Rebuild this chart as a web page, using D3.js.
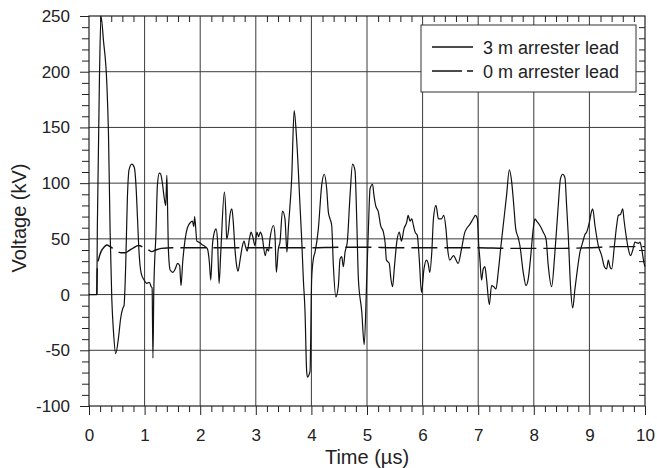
<!DOCTYPE html>
<html>
<head>
<meta charset="utf-8">
<script src="https://cdn.jsdelivr.net/npm/d3@7"></script>
<style>
  body { margin: 0; background: #fff; }
  svg text { font-family: "Liberation Sans", Arial, Helvetica, sans-serif; fill: #222; }
</style>
</head>
<body>
<div id="chart"></div>
<script>
// voltage at the transformer, 3 m vs 0 m arrester lead

var xTicks = [0, 1, 2, 3, 4, 5, 6, 7, 8, 9, 10];
var yTicks = [-100, -50, 0, 50, 100, 150, 200, 250];
var seriesNames = ['3 m arrester lead', '0 m arrester lead'];

// time (us)
var leadT3 = [0, 0.14, 0.15, 0.19, 0.215, 0.26, 0.32, 0.35, 0.38, 0.41, 0.44, 0.48, 0.53, 0.57, 0.61, 0.63, 0.66, 0.69, 0.72, 0.77,
  0.815, 0.845, 0.87, 0.90, 0.935, 0.99, 1.04, 1.085, 1.12, 1.135, 1.15, 1.165, 1.205, 1.23, 1.265, 1.29, 1.325, 1.355, 1.38, 1.40,
  1.41, 1.43, 1.46, 1.51, 1.55, 1.595, 1.63, 1.655, 1.685, 1.73, 1.77, 1.83, 1.86, 1.885, 1.90, 1.94, 1.98, 2.03, 2.09, 2.13,
  2.165, 2.19, 2.22, 2.255, 2.285, 2.31, 2.34, 2.37, 2.435, 2.46, 2.475, 2.505, 2.535, 2.57, 2.595, 2.625, 2.655, 2.68, 2.72, 2.76,
  2.79, 2.815, 2.845, 2.885, 2.915, 2.945, 2.985, 3.02, 3.05, 3.08, 3.11, 3.17, 3.20, 3.23, 3.255, 3.32, 3.345, 3.37, 3.405, 3.435,
  3.48, 3.525, 3.56, 3.585, 3.645, 3.69, 3.735, 3.795, 3.825, 3.855, 3.885, 3.915, 3.93, 3.975, 4.005, 4.035, 4.065, 4.125, 4.185, 4.23,
  4.275, 4.305, 4.335, 4.365, 4.395, 4.44, 4.485, 4.515, 4.545, 4.575, 4.605, 4.645, 4.695, 4.74, 4.785, 4.815, 4.845, 4.905, 4.95, 4.995,
  5.025, 5.055, 5.10, 5.125, 5.155, 5.205, 5.245, 5.295, 5.325, 5.35, 5.40, 5.43, 5.46, 5.49, 5.535, 5.58, 5.62, 5.665, 5.715, 5.74,
  5.775, 5.805, 5.835, 5.865, 5.905, 5.94, 5.98, 6.025, 6.07, 6.10, 6.13, 6.165, 6.195, 6.24, 6.285, 6.34, 6.38, 6.42, 6.45, 6.49,
  6.555, 6.64, 6.70, 6.76, 6.79, 6.85, 6.91, 6.95, 6.985, 7.01, 7.03, 7.06, 7.09, 7.12, 7.15, 7.20, 7.24, 7.28, 7.32, 7.36,
  7.41, 7.45, 7.51, 7.56, 7.60, 7.64, 7.675, 7.72, 7.75, 7.81, 7.86, 7.90, 7.94, 7.99, 8.02, 8.05, 8.11, 8.17, 8.22, 8.26,
  8.32, 8.38, 8.44, 8.48, 8.52, 8.56, 8.59, 8.62, 8.66, 8.70, 8.74, 8.77, 8.83, 8.88, 8.92, 8.95, 9.00, 9.04, 9.06, 9.10,
  9.16, 9.22, 9.27, 9.31, 9.34, 9.37, 9.40, 9.45, 9.49, 9.52, 9.56, 9.60, 9.62, 9.66, 9.70, 9.74, 9.78, 9.82, 9.88, 9.91,
  9.94, 9.98, 10];
// voltage (kV)
var leadV3 = [0, 0, 60, 200, 250, 228, 190, 145, 56, -4, -33, -53, -39, -21, -12, -10, 26, 86, 112, 117,
  114, 98, 71, 38, 20, 13, 10, 11, 7, 6, -57, 2, 56, 98, 109, 108, 98, 86, 80, 107,
  86, 38, 22, 20, 23, 28, 26, 8, 29, 50, 60, 65, 66, 61, 70, 48, 47, 45, 43, 41,
  29, 13, 44, 56, 59, 50, 10, 38, 92, 74, 50, 56, 71, 77, 65, 41, 26, 21, 32, 44,
  48, 43, 39, 50, 56, 52, 44, 56, 52, 56, 53, 35, 41, 39, 50, 62, 53, 20, 41, 47,
  75, 68, 38, 59, 104, 165, 139, 80, 50, 14, -15, -69, -74, -69, 14, 32, 38, 59, 98, 108,
  95, 74, 68, 62, 26, -2, 8, 32, 34, 25, 38, 47, 89, 117, 111, 68, 14, -15, -45, 14,
  59, 95, 99, 89, 80, 74, 62, 56, 47, 31, 28, 14, 7, 23, 47, 56, 48, 59, 65, 71,
  66, 68, 62, 56, 53, 32, 2, 23, 31, 28, 20, 38, 68, 80, 68, 68, 71, 59, 41, 31,
  35, 28, 41, 56, 59, 63, 68, 71, 68, 44, 32, 13, 23, 25, 14, -9, 8, 7, 5, 20,
  44, 62, 89, 112, 102, 80, 59, 51, 44, 20, 8, 14, 32, 59, 68, 66, 62, 56, 50, 26,
  7, 38, 80, 104, 108, 105, 80, 53, 8, -12, 5, 17, 38, 47, 54, 56, 65, 75, 77, 62,
  44, 35, 25, 23, 31, 25, 23, 44, 62, 71, 72, 77, 68, 53, 41, 35, 40, 47, 46, 47,
  41, 29, 25];

var leadT0 = [0, 0.14, 0.15, 0.18, 0.22, 0.27, 0.32, 0.38, 0.44, 0.5, 0.58, 0.65, 0.72, 0.8, 0.89, 0.95, 1.0, 1.07, 1.13, 1.2,
  1.3, 1.5, 2.0, 2.5, 3.0, 3.5, 4.0, 4.5, 5.0, 5.5, 6.0, 6.5, 7.0, 7.5, 8.0, 8.5, 9.0, 9.5, 10];
var leadV0 = [0, 0, 25, 33, 39, 42.5, 44.5, 43, 41, 39, 37.5, 37.5, 39.5, 42, 44, 43, 41, 40, 38.5, 40,
  41.5, 42, 42, 42, 42, 42, 42, 42.5, 42.5, 42, 42, 42, 42, 41.5, 41.5, 41.5, 42, 43, 43];

var drawChart = function(){

    var svgWidth = 657;
    var svgHeight = 468;
    var left = 89, right = 645, top = 16, bottom = 406;

    var xScale = d3.scaleLinear()
        .domain([0, 10])
        .range([left, right]);

    var yScale = d3.scaleLinear()
        .domain([-100, 250])
        .range([bottom, top]);

    var svg = d3.select("#chart").append("svg")
        .attr("width", svgWidth)
        .attr("height", svgHeight);

    // minor ticks: every 0.2 us and every 10 kV
    var xMinor = d3.range(0, 51).map(function(i){ return i / 5; })
        .filter(function(d){ return Math.abs(d - Math.round(d)) > 0.01; });
    var yMinor = d3.range(-100, 251, 10).filter(function(d){ return d % 50 != 0; });

    // grid
    svg.append("g")
        .selectAll("line")
        .data(xTicks.slice(1, -1))
        .enter().append("line")
        .attr("x1", function(d){ return xScale(d); })
        .attr("x2", function(d){ return xScale(d); })
        .attr("y1", top)
        .attr("y2", bottom)
        .attr("stroke", "#3a3a3a")
        .attr("stroke-width", 1);

    svg.append("g")
        .selectAll("line")
        .data(yTicks.slice(1, -1))
        .enter().append("line")
        .attr("x1", left)
        .attr("x2", right)
        .attr("y1", function(d){ return yScale(d); })
        .attr("y2", function(d){ return yScale(d); })
        .attr("stroke", "#3a3a3a")
        .attr("stroke-width", 1);

    // axes
    var styleAxis = function(g){
        g.select(".domain").remove();
        g.selectAll(".tick line").attr("stroke", "#222").attr("stroke-width", 1);
        g.selectAll(".tick text").style("font-size", "17px").attr("fill", "#222");
    };
    var noText = function(g){
        g.selectAll(".tick text").remove();
    };

    svg.append("g")
        .attr("transform", "translate(0," + bottom + ")")
        .call(d3.axisBottom(xScale).tickValues(xTicks).tickSize(9).tickPadding(14).tickFormat(function(d){ return String(d); }))
        .call(styleAxis);

    svg.append("g")
        .attr("transform", "translate(0," + bottom + ")")
        .call(d3.axisBottom(xScale).tickValues(xMinor).tickSize(6))
        .call(styleAxis).call(noText);

    svg.append("g")
        .attr("transform", "translate(0," + top + ")")
        .call(d3.axisTop(xScale).tickValues(xMinor).tickSize(-6))
        .call(styleAxis).call(noText);

    // hyphen for minus, like the original
    svg.append("g")
        .attr("transform", "translate(" + left + ",0)")
        .call(d3.axisLeft(yScale).tickValues(yTicks).tickSize(9).tickPadding(10).tickFormat(function(d){ return String(d); }))
        .call(styleAxis);

    svg.append("g")
        .attr("transform", "translate(" + left + ",0)")
        .call(d3.axisLeft(yScale).tickValues(yMinor).tickSize(7))
        .call(styleAxis).call(noText);

    svg.append("g")
        .attr("transform", "translate(" + right + ",0)")
        .call(d3.axisRight(yScale).tickValues(yMinor).tickSize(-6))
        .call(styleAxis).call(noText);

    // frame
    svg.append("rect")
        .attr("x", left)
        .attr("y", top)
        .attr("width", right - left)
        .attr("height", bottom - top)
        .attr("fill", "none")
        .attr("stroke", "#222")
        .attr("stroke-width", 1.2);

    var line = d3.line()
        .curve(d3.curveMonotoneX)
        .x(function(d){ return xScale(d[0]); })
        .y(function(d){ return yScale(d[1]); });

    var data0 = leadT0.map(function(t, i){ return [t, leadV0[i]]; });
    var data3 = leadT3.map(function(t, i){ return [t, leadV3[i]]; });

    svg.append("path")
        .datum(data0)
        .attr("d", line)
        .attr("fill", "none")
        .attr("stroke", "#111")
        .attr("stroke-width", 1.4)
        .attr("stroke-dasharray", "26,7")
        .attr("stroke-dashoffset", -8);

    svg.append("path")
        .datum(data3)
        .attr("d", line)
        .attr("fill", "none")
        .attr("stroke", "#111")
        .attr("stroke-width", 1.2)
        .attr("stroke-linejoin", "round");

    // legend
    var legend = svg.append("g");

    legend.append("rect")
        .attr("x", 421)
        .attr("y", 25)
        .attr("width", 215)
        .attr("height", 67)
        .attr("fill", "#fff")
        .attr("stroke", "#333")
        .attr("stroke-width", 1);

    var dashes = [null, "30,5"];
    for(i=0; i<seriesNames.length; i++){
        var ly = 47 + i * 24;
        legend.append("line")
            .attr("x1", 432)
            .attr("x2", 473)
            .attr("y1", ly)
            .attr("y2", ly)
            .attr("stroke", "#111")
            .attr("stroke-width", 1.3)
            .attr("stroke-dasharray", dashes[i]);
        legend.append("text")
            .attr("x", 483)
            .attr("y", ly + 6.5)
            .style("font-size", "18px")
            .text(seriesNames[i]);
    }

    // axis titles
    svg.append("text")
        .attr("x", (left + right) / 2)
        .attr("y", 464)
        .attr("text-anchor", "middle")
        .style("font-size", "20px")
        .text("Time (\u00b5s)");

    svg.append("text")
        .attr("transform", "translate(26," + 218 + ") rotate(-90)")
        .attr("text-anchor", "middle")
        .style("font-size", "20px")
        .text("Voltage (kV)");
};

drawChart();
</script>
</body>
</html>
